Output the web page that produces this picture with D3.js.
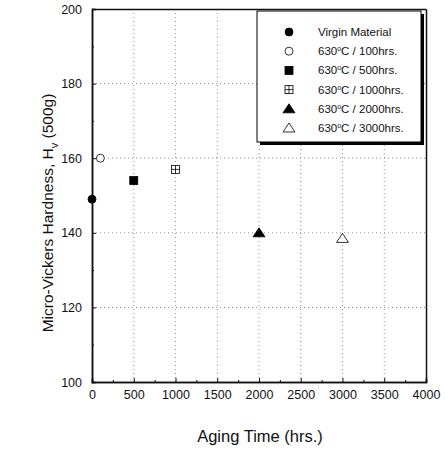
<!DOCTYPE html>
<html>
<head>
<meta charset="utf-8">
<script src="https://cdn.jsdelivr.net/npm/d3@7"></script>
<style>
body { margin: 0; background: #fff; }
svg { font-family: Arial, "Liberation Sans", sans-serif; }
</style>
</head>
<body>
<div id="chart"></div>
<script>
var width = 445, height = 449;
var margin = {left: 92, right: 19, top: 9, bottom: 67};

// data
var labels = ["Virgin Material", "100hrs.", "500hrs.", "1000hrs.", "2000hrs.", "3000hrs."];
var symbols = ["circleFill", "circleOpen", "squareFill", "squarePlus", "triFill", "triOpen"];
var agingTime = [0, 100, 500, 1000, 2000, 3000];
var hardness = [149, 160, 154, 157, 140, 138.5];
var xTicks = [0, 500, 1000, 1500, 2000, 2500, 3000, 3500, 4000];
var yTicks = [100, 120, 140, 160, 180, 200];

var svg = d3.select("#chart").append("svg")
    .attr("width", width).attr("height", height);

var x = d3.scaleLinear().domain([0, 4000]).range([margin.left, width - margin.right]);
var y = d3.scaleLinear().domain([100, 200]).range([height - margin.bottom, margin.top]);

// grid
svg.append("g").selectAll("line").data(xTicks.slice(1, -1)).enter().append("line")
    .attr("x1", d => x(d)).attr("x2", d => x(d))
    .attr("y1", y(100)).attr("y2", y(200))
    .attr("stroke", "#777").attr("stroke-width", 0.8).attr("stroke-dasharray", "1,3");
svg.append("g").selectAll("line").data(yTicks.slice(1, -1)).enter().append("line")
    .attr("x1", x(0)).attr("x2", x(4000))
    .attr("y1", d => y(d)).attr("y2", d => y(d))
    .attr("stroke", "#777").attr("stroke-width", 0.8).attr("stroke-dasharray", "1,3");

// axes
var xAxis = svg.append("g").attr("transform", "translate(0," + y(100) + ")")
    .call(d3.axisBottom(x).tickValues(xTicks).tickFormat(d3.format("d")).tickSize(-4).tickPadding(8));
var xMinor = svg.append("g").attr("transform", "translate(0," + y(100) + ")")
    .call(d3.axisBottom(x).tickValues(d3.range(250, 4000, 500)).tickSize(-2).tickFormat(""));
var yAxis = svg.append("g").attr("transform", "translate(" + x(0) + ",0)")
    .call(d3.axisLeft(y).tickValues(yTicks).tickSize(-4).tickPadding(8));
var yMinor = svg.append("g").attr("transform", "translate(" + x(0) + ",0)")
    .call(d3.axisLeft(y).tickValues(d3.range(110, 200, 20)).tickSize(-2).tickFormat(""));
svg.append("g").attr("transform", "translate(0," + y(200) + ")")
    .call(d3.axisTop(x).tickValues([]).tickSizeOuter(0));
svg.append("g").attr("transform", "translate(" + x(4000) + ",0)")
    .call(d3.axisRight(y).tickValues([]).tickSizeOuter(0));

svg.selectAll(".domain").attr("stroke", "#111").attr("stroke-width", 1.5);
svg.selectAll(".tick line").attr("stroke", "#111");
svg.selectAll(".tick text").attr("font-size", 12.5).attr("fill", "#111");
xAxis.selectAll(".tick text").attr("dy", "0.7em");
yAxis.selectAll(".tick text").attr("dx", "-2");

// markers
function drawSymbol(g, type, cx, cy) {
    var s = 4;
    if (type == "circleFill" || type == "circleOpen") {
        g.append("circle").attr("cx", cx).attr("cy", cy).attr("r", s)
            .attr("fill", type == "circleFill" ? "#000" : "#fff")
            .attr("stroke", "#000").attr("stroke-width", 0.8);
    } else if (type == "squareFill" || type == "squarePlus") {
        g.append("rect").attr("x", cx - s).attr("y", cy - s)
            .attr("width", 2 * s).attr("height", 2 * s)
            .attr("fill", type == "squareFill" ? "#000" : "#fff")
            .attr("stroke", "#000").attr("stroke-width", 0.8);
        if (type == "squarePlus") {
            g.append("path")
                .attr("d", "M" + cx + "," + (cy - s) + "V" + (cy + s) + "M" + (cx - s) + "," + cy + "H" + (cx + s))
                .attr("stroke", "#000").attr("stroke-width", 0.8);
        }
    } else {
        var h = 5;
        g.append("path")
            .attr("d", "M" + cx + "," + (cy - h) + "L" + (cx + h + 1) + "," + (cy + h - 1) + "L" + (cx - h - 1) + "," + (cy + h - 1) + "Z")
            .attr("fill", type == "triFill" ? "#000" : "#fff")
            .attr("stroke", "#000").attr("stroke-width", 0.8);
    }
}

var pts = svg.append("g");
agingTime.forEach(function(t, i) {
    drawSymbol(pts, symbols[i], x(t), y(hardness[i]));
});

// legend
var lx = 257, ly = 11, lw = 164, lh = 131;
svg.append("rect").attr("x", lx + 3).attr("y", ly + 3).attr("width", lw).attr("height", lh)
    .attr("fill", "#000");
svg.append("rect").attr("x", lx).attr("y", ly).attr("width", lw).attr("height", lh)
    .attr("fill", "#fff").attr("stroke", "#000").attr("stroke-width", 1);
var lg = svg.append("g");
labels.forEach(function(l, i) {
    var yy = 32 + i * 19.2;
    drawSymbol(lg, symbols[i], 289, yy);
    var t = lg.append("text").attr("x", 318).attr("y", yy + 4)
        .attr("font-size", 11.5).attr("fill", "#111");
    if (i == 0) {
        t.text(l);
    } else {
        t.append("tspan").text("630");
        t.append("tspan").attr("font-size", 7).attr("dy", -4).text("o");
        t.append("tspan").attr("dy", 4).text("C / " + l);
    }
});

// axis titles
svg.append("text").attr("x", 260).attr("y", 442).attr("text-anchor", "middle")
    .attr("font-size", 16.5).attr("fill", "#111").text("Aging Time (hrs.)");
var yt = svg.append("text").attr("transform", "translate(53,213) rotate(-90)")
    .attr("text-anchor", "middle").attr("font-size", 15.5).attr("fill", "#111");
yt.append("tspan").text("Micro-Vickers Hardness, H");
yt.append("tspan").attr("font-size", 11).attr("dy", 5).text("v");
yt.append("tspan").attr("dy", -5).text(" (500g)");
</script>
</body>
</html>
